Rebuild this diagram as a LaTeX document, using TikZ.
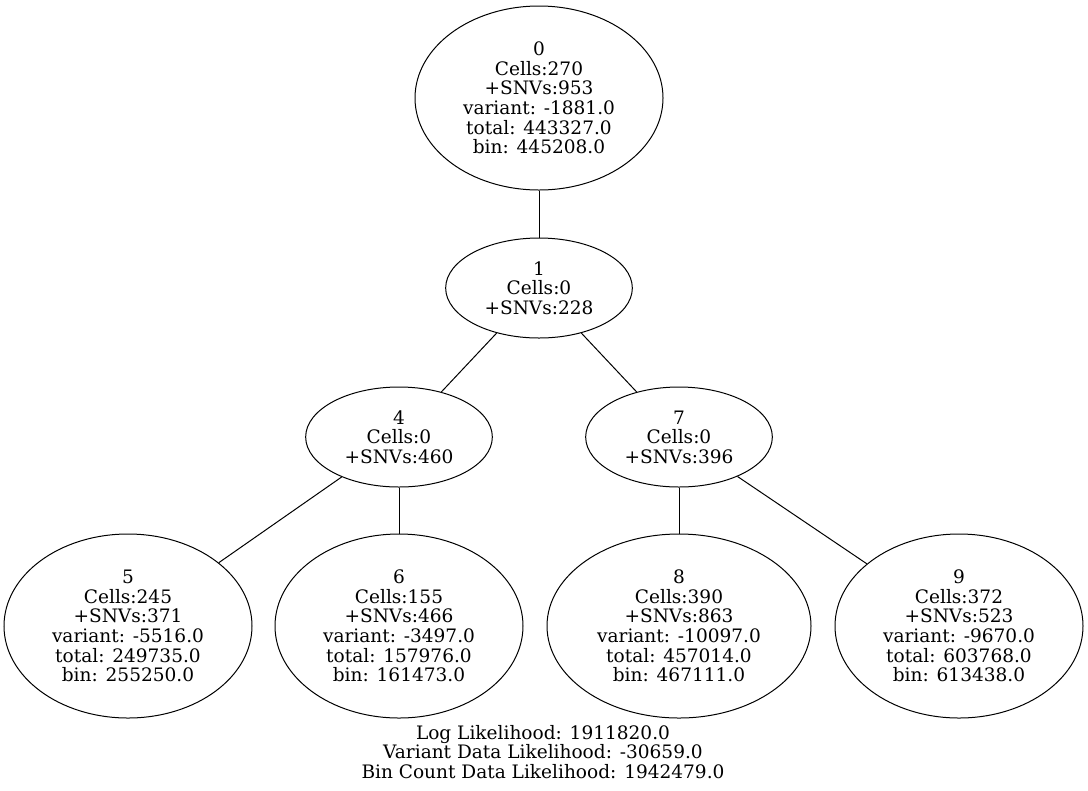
\documentclass[tikz,border=0pt]{standalone}
\usepackage{fontspec}
\setmainfont{DejaVu Serif}
\usetikzlibrary{shapes.geometric}
\begin{document}
\begin{tikzpicture}[x=0.75pt,y=-0.75pt,
  every node/.style={font=\fontsize{13.9}{14.7}\selectfont, align=center, inner sep=0pt},
  big/.style={ellipse, draw, line width=0.75pt, minimum width=186pt, minimum height=138pt},
  wide/.style={ellipse, draw, line width=0.75pt, minimum width=198pt, minimum height=138pt},
  small/.style={ellipse, draw, line width=0.75pt, minimum width=140pt, minimum height=75pt},
  edge/.style={draw, line width=0.75pt}]
\useasboundingbox (0,0) rectangle (1088,790);
\node[big] (n0) at (539,98) {0\\Cells:270\\+SNVs:953\\variant: -1881.0\\total: 443327.0\\bin: 445208.0};
\node[small] (n1) at (539,288) {1\\Cells:0\\+SNVs:228};
\node[small] (n4) at (399,437) {4\\Cells:0\\+SNVs:460};
\node[small] (n7) at (679,437) {7\\Cells:0\\+SNVs:396};
\node[big] (n5) at (128,626) {5\\Cells:245\\+SNVs:371\\variant: -5516.0\\total: 249735.0\\bin: 255250.0};
\node[big] (n6) at (399,626) {6\\Cells:155\\+SNVs:466\\variant: -3497.0\\total: 157976.0\\bin: 161473.0};
\node[wide] (n8) at (679,626) {8\\Cells:390\\+SNVs:863\\variant: -10097.0\\total: 457014.0\\bin: 467111.0};
\node[big] (n9) at (959,626) {9\\Cells:372\\+SNVs:523\\variant: -9670.0\\total: 603768.0\\bin: 613438.0};
\node (lik) at (543,752) {Log Likelihood: 1911820.0\\Variant Data Likelihood: -30659.0\\Bin Count Data Likelihood: 1942479.0};
\path[edge] (n0) -- (n1);
\path[edge] (n1) -- (n4);
\path[edge] (n1) -- (n7);
\path[edge] (n4) -- (n5);
\path[edge] (n4) -- (n6);
\path[edge] (n7) -- (n8);
\path[edge] (n7) -- (n9);
\end{tikzpicture}
\end{document}
